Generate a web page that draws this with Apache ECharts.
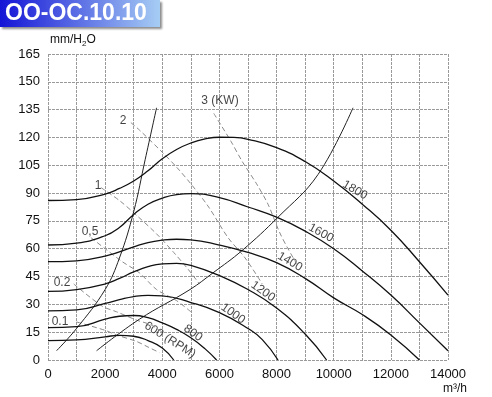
<!DOCTYPE html>
<html lang="en">
<head>
    <meta charset="UTF-8">
    <script src="https://cdn.jsdelivr.net/npm/echarts@6/dist/echarts.min.js"></script>
    <title>OO-OC.10.10</title>
    <style>
        html, body { margin: 0; padding: 0; background: #fff; }
        #chart { width: 492px; height: 397px; }
    </style>
</head>
<body>
<div id="chart"></div>
<script type="text/javascript">
    // fan curves, [m3/h, mmH2O]
    var rpm1800 = [[0,86],[1000,86.5],[2000,89.5],[2500,92.5],[3000,96.5],[3500,102],[4000,108.5],[4500,113.5],[5000,117],[5500,119.2],[6000,120.1],[6500,120],[7000,119],[8000,114.5],[9000,107],[10000,96.5],[11000,84],[12000,70],[13000,53],[14000,35]];
    var rpm1600 = [[0,62],[1000,63],[2000,67],[2500,71.5],[3000,78.5],[3500,84],[4000,87.3],[4500,89.2],[5000,89.7],[6000,87.5],[7000,82.5],[8000,77],[9000,69.5],[10000,60],[11000,48],[12000,35],[13000,20],[14000,5]];
    var rpm1400 = [[0,53],[1000,53.5],[2000,56],[3000,61],[3500,63.3],[4000,64.6],[4500,65.1],[5000,64.8],[6000,62],[7000,58],[8000,52.5],[9000,44],[10000,33.5],[11000,24.5],[12000,13.5],[13000,0]];
    var rpm1200 = [[0,37],[1000,38],[2000,41],[2500,44],[3000,47.5],[3500,50.3],[4000,51.8],[4500,52.1],[5000,51],[6000,45.5],[7000,38],[8000,28],[9000,14],[9750,0]];
    var rpm1000 = [[0,26.5],[1000,27],[2000,30.5],[2500,32.5],[3000,34.2],[3500,34.9],[4000,34.6],[5000,31],[6000,25.5],[7000,17],[7500,11],[8050,0]];
    var rpm800 = [[0,17.5],[1000,18],[2000,22],[2500,23.6],[3000,24],[3500,22.8],[4000,20],[4500,16.5],[5000,12],[5500,6],[5900,0]];
    var rpm600 = [[0,10.5],[1000,10.8],[2000,12.5],[2500,13.3],[3000,12.8],[3500,10.5],[4000,6.5],[4400,0]];
    var rpmCurves = [rpm1800, rpm1600, rpm1400, rpm1200, rpm1000, rpm800, rpm600];

    // system resistance lines
    var system1 = [[300,5],[1000,17],[2000,38],[2500,55],[3000,80],[3400,108],[3800,136]];
    var system2 = [[1700,5],[3200,22],[4970,38],[5775,47],[6790,59],[8050,77],[9450,100],[10675,136]];

    // shaft power lines (kW)
    var kw3 = [[5800,133],[6400,118],[6800,107],[7300,95],[7700,84],[8100,69],[8400,60],[8700,52]];
    var kw2 = [[2900,128],[3200,124],[4000,112],[4500,104],[5000,95],[5600,83],[6300,66],[6900,55],[7500,41]];
    var kw1 = [[1850,93],[2500,86],[3100,78],[3800,68],[4400,58],[4900,49],[5300,41]];
    var kw05 = [[1500,66],[2000,60],[2600,53],[3200,47],[3800,38],[4500,32],[5000,26]];
    var kw02 = [[900,41],[1900,29],[2400,26],[3100,21.5],[3600,19],[4000,15]];
    var kw01 = [[1000,20.5],[2000,16],[2400,13.5],[3100,10],[3500,7],[3900,4]];
    var kwCurves = [kw3, kw2, kw1, kw05, kw02, kw01];

    // curve labels
    var rpmLabels = [['1800',10745,91.6],['1600',9555,68.5],['1400',8470,53],['1200',7525,37],['1000',6475,25],['800',5075,14.5],['600 (RPM)',4270,10.8]];
    var rpmAngles = [-30, -28, -30, -35, -35, -35, -32];
    var kwLabels = [['3 (KW)',6020,140],['2',2625,129],['1',1750,94],['0,5',1470,69],['0.2',490,41.5],['0.1',420,20.5]];

    var myChart = echarts.init(document.getElementById('chart'));
    var series = [];
    kwCurves.forEach(function (d) {
        series.push({
            type: 'line', data: d, smooth: 0.3, symbol: 'none', silent: true,
            lineStyle: { color: '#8a8a8a', width: 1, type: [5, 3] }
        });
    });
    [system1, system2].forEach(function (d) {
        series.push({
            type: 'line', data: d, smooth: 0.4, symbol: 'none', silent: true,
            lineStyle: { color: '#222', width: 1 }
        });
    });
    rpmCurves.forEach(function (d) {
        series.push({
            type: 'line', data: d, smooth: 0.5, symbol: 'none', silent: true,
            lineStyle: { color: '#111', width: 1.3 }
        });
    });
    series.push({
        type: 'scatter', symbolSize: 0, silent: true,
        label: { show: true, position: 'inside', formatter: '{b}', color: '#111', fontSize: 12, fontFamily: 'Liberation Sans, Arial' },
        data: rpmLabels.map(function (l, i) {
            return { name: l[0], value: [l[1], l[2]], label: { rotate: rpmAngles[i] } };
        })
    });
    series.push({
        type: 'scatter', symbolSize: 0, silent: true,
        label: { show: true, position: 'inside', formatter: '{b}', color: '#111', fontSize: 12, fontFamily: 'Liberation Sans, Arial' },
        data: kwLabels.map(function (l) {
            return { name: l[0], value: [l[1], l[2]] };
        })
    });

    var gridLine = { show: true, lineStyle: { color: '#9a9a9a', width: 1, type: [3, 1] } };
    var option = {
        animation: false,
        grid: { left: 48, right: 44, top: 54, bottom: 37 },
        xAxis: {
            type: 'value', min: 0, max: 14000, interval: 1000,
            axisLine: { show: false }, axisTick: { show: false },
            splitLine: gridLine,
            axisLabel: {
                color: '#111', fontSize: 13, margin: 8, fontFamily: 'Liberation Sans, Arial',
                formatter: function (v) { return v % 2000 === 0 ? v : ''; }
            }
        },
        yAxis: {
            type: 'value', min: 0, max: 165, interval: 15,
            axisLine: { show: false }, axisTick: { show: false },
            splitLine: gridLine,
            axisLabel: { color: '#111', fontSize: 13, margin: 8, fontFamily: 'Liberation Sans, Arial' }
        },
        graphic: [
            {
                type: 'rect', left: 0, top: 0, shape: { width: 160, height: 27 },
                style: {
                    fill: new echarts.graphic.LinearGradient(0, 0, 1, 0, [
                        { offset: 0, color: '#1414d6' },
                        { offset: 1, color: '#a6cdf4' }
                    ]),
                    shadowColor: 'rgba(0,0,0,0.45)', shadowOffsetX: 2, shadowOffsetY: 2, shadowBlur: 2
                }
            },
            {
                type: 'text', left: 5, top: 2,
                style: { text: 'OO-OC.10.10', fill: '#fff', font: 'bold 23px "Liberation Sans", Arial' }
            },
            {
                type: 'text', left: 50, top: 34,
                style: {
                    text: '{a|mm/H}{b|2}{a|O}',
                    rich: {
                        a: { fontSize: 12, fill: '#111', fontFamily: 'Liberation Sans, Arial' },
                        b: { fontSize: 8, fill: '#111', fontFamily: 'Liberation Sans, Arial', padding: [8, 0, 0, 0] }
                    }
                }
            },
            {
                type: 'text', right: 25, top: 383,
                style: { text: 'm³/h', fill: '#111', font: '12px "Liberation Sans", Arial' }
            }
        ],
        series: series
    };
    myChart.setOption(option);
</script>
</body>
</html>
